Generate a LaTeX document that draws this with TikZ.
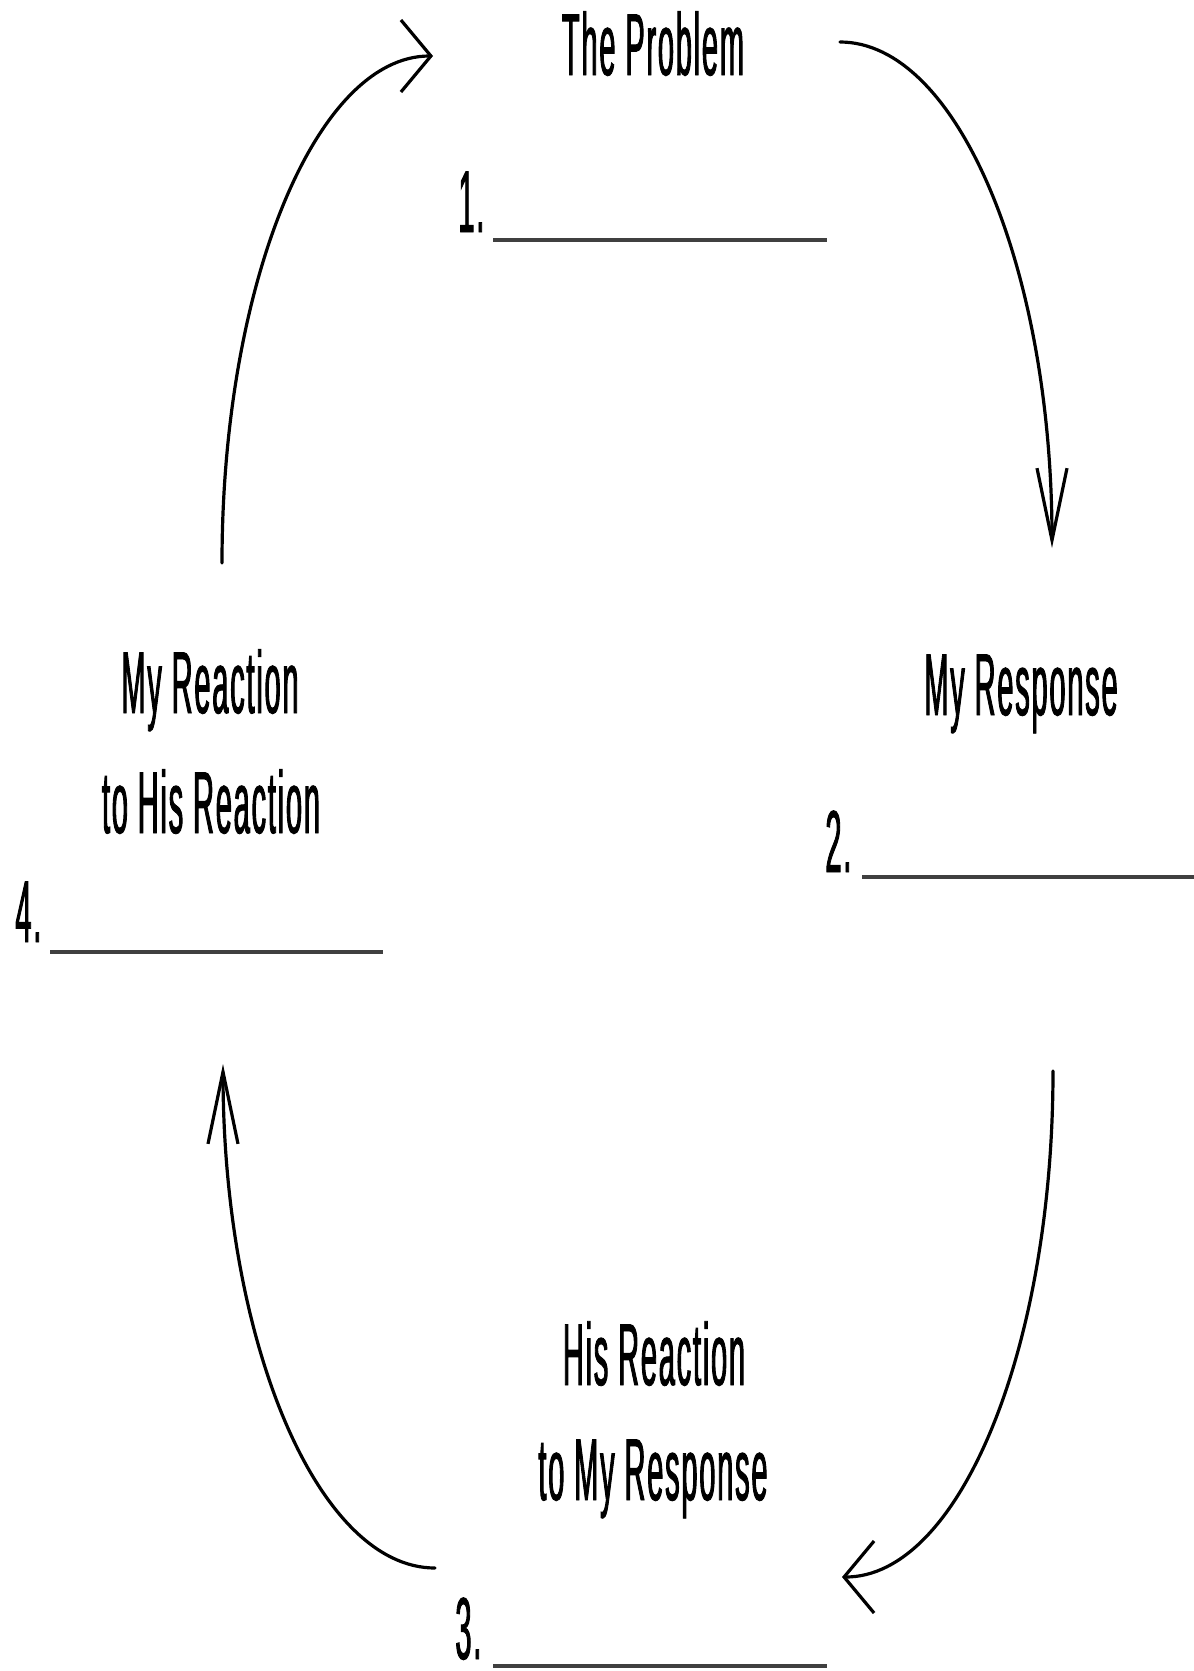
\documentclass[tikz,border=0pt]{standalone}
\usepackage{fontspec}
\setmainfont[FakeStretch=0.33,FakeBold=1,LetterSpace=2]{Liberation Sans}
\usetikzlibrary{arrows.meta}
\begin{document}
\begin{tikzpicture}[x=0.5pt,y=-0.5pt,
  lbl/.style={inner sep=0pt, font=\fontsize{44}{50}\selectfont},
  blank/.style={line width=2pt, black!75},
  cyc/.style={line width=1.6pt, line cap=round, line join=round},
  hhead/.style={-{Straight Barb[length=15pt,width=36pt]}},
  vhead/.style={-{Straight Barb[length=36pt,width=15pt]}}]
\useasboundingbox (0,0) rectangle (1194,1671);

% labels
\node[lbl,anchor=base] (prob) at (653,75) {The Problem};
\node[lbl,anchor=base west] (n1) at (458,232) {1.};
\node[lbl,anchor=base] (resp) at (1021,715) {My Response};
\node[lbl,anchor=base west] (n2) at (825,872) {2.};
\node[lbl,anchor=base] (reactA) at (210,713) {My Reaction};
\node[lbl,anchor=base] (reactB) at (211,833) {to His Reaction};
\node[lbl,anchor=base west] (n4) at (15,942) {4.};
\node[lbl,anchor=base] (hisA) at (654,1385) {His Reaction};
\node[lbl,anchor=base] (hisB) at (653,1500) {to My Response};
\node[lbl,anchor=base west] (n3) at (455,1659) {3.};

% blanks
\coordinate (b1s) at (493,240); \coordinate (b1e) at (827,240);
\coordinate (b2s) at (862,877); \coordinate (b2e) at (1194,877);
\coordinate (b3s) at (493,1666); \coordinate (b3e) at (827,1666);
\coordinate (b4s) at (50,952); \coordinate (b4e) at (383,952);
\draw[blank] (b1s) -- (b1e);
\draw[blank] (b2s) -- (b2e);
\draw[blank] (b3s) -- (b3e);
\draw[blank] (b4s) -- (b4e);

% cycle arrows
\coordinate (a1s) at (222,563); \coordinate (a1e) at (433,56);
\coordinate (a2s) at (840,42);  \coordinate (a2e) at (1052,548);
\coordinate (a3s) at (1053,1071); \coordinate (a3e) at (842,1577);
\coordinate (a4s) at (435,1568); \coordinate (a4e) at (223,1064);
\draw[cyc,hhead] (a1s) .. controls (222,283) and (316.5,56) .. (a1e);
\draw[cyc,vhead] (a2s) .. controls (957,42) and (1052,268.5) .. (a2e);
\draw[cyc,hhead] (a3s) .. controls (1053,1350.5) and (958.5,1577) .. (a3e);
\draw[cyc,vhead] (a4s) .. controls (318,1568) and (223,1342.4) .. (a4e);
\end{tikzpicture}
\end{document}
